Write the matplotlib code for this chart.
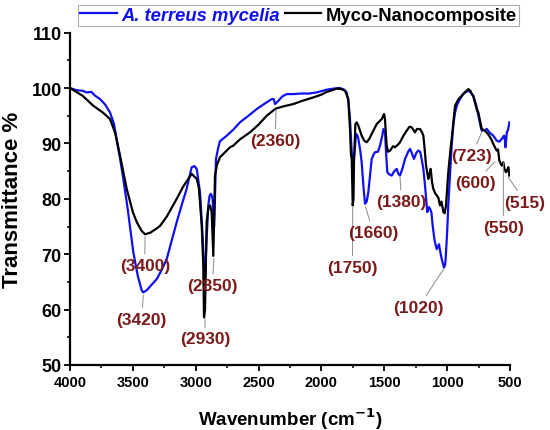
import matplotlib
matplotlib.use('Agg')
import matplotlib.pyplot as plt
from matplotlib.ticker import MultipleLocator

plt.rcParams['font.family'] = ['Liberation Sans', 'DejaVu Sans']
plt.rcParams['font.weight'] = 'bold'

# FTIR spectra (wavenumber cm-1, transmittance %)
myco_wn = [4000, 3900, 3815, 3740, 3682, 3642, 3602, 3549, 3500, 3469, 3430, 3403,
           3360, 3320, 3284, 3230, 3151, 3100, 3059, 3032, 3010, 2992, 2975, 2952,
           2940, 2934, 2926, 2913, 2900, 2886, 2873, 2860, 2852, 2847, 2830, 2807,
           2727, 2701, 2650, 2568, 2500, 2435, 2380, 2361, 2300, 2224, 2150, 2065,
           2000, 1958, 1900, 1878, 1840, 1812, 1786, 1773, 1765, 1759, 1751, 1745,
           1741, 1730, 1719, 1706, 1680, 1660, 1640, 1620, 1600, 1560, 1520, 1502,
           1495, 1481, 1470, 1454, 1430, 1415, 1390, 1375, 1350, 1322, 1300, 1282,
           1265, 1256, 1240, 1216, 1200, 1189, 1175, 1168, 1150, 1140, 1131, 1120,
           1110, 1095, 1083, 1070, 1057, 1045, 1030, 1020, 1009, 991, 975, 964,
           950, 937, 910, 884, 860, 832, 815, 805, 792, 765, 752, 725, 700, 672,
           650, 633, 606, 595, 585, 566, 553, 545, 532, 520, 513, 505]
myco_t = [100.0, 98.6, 96.8, 95.6, 94.4, 92.0, 87.8, 81.8, 77.6, 75.8, 74.2, 73.6,
          73.9, 74.5, 75.1, 76.8, 80.0, 82.2, 83.6, 84.5, 84.0, 83.6, 82.0, 75.1,
          68.0, 58.6, 60.0, 75.8, 78.3, 78.8, 77.6, 69.7, 78.0, 84.2, 86.2, 87.5,
          89.3, 89.6, 90.7, 92.0, 93.4, 95.0, 96.0, 96.3, 96.7, 97.1, 97.7, 98.3,
          98.8, 99.3, 99.7, 99.9, 99.8, 99.5, 98.0, 92.6, 88.0, 87.2, 78.8, 80.0,
          86.6, 93.5, 93.8, 93.2, 91.4, 90.5, 90.2, 90.8, 91.7, 93.5, 94.4, 95.3,
          94.5, 89.6, 88.5, 88.7, 89.5, 89.3, 89.8, 90.2, 91.3, 92.3, 93.0, 92.9,
          92.3, 92.0, 92.6, 92.6, 92.0, 91.4, 88.0, 86.0, 83.6, 84.5, 85.4, 83.0,
          81.8, 81.0, 80.6, 80.2, 78.8, 79.5, 77.6, 77.4, 78.8, 84.8, 88.5, 90.8,
          94.0, 96.8, 98.0, 98.6, 99.2, 99.8, 99.5, 98.9, 98.5, 96.2, 95.6, 92.6,
          92.3, 91.6, 90.8, 89.9, 88.7, 88.9, 86.9, 86.0, 86.6, 85.5, 84.8, 85.3,
          85.7, 84.2]

myc_wn = [4000, 3950, 3900, 3867, 3830, 3800, 3761, 3720, 3682, 3650, 3629, 3600,
          3576, 3540, 3496, 3460, 3430, 3417, 3390, 3350, 3310, 3270, 3231, 3190,
          3151, 3110, 3072, 3050, 3032, 3010, 2992, 2980, 2966, 2955, 2945, 2935,
          2926, 2915, 2900, 2890, 2881, 2870, 2865, 2854, 2847, 2839, 2820, 2807,
          2753, 2700, 2648, 2580, 2515, 2450, 2395, 2380, 2369, 2355, 2343, 2310,
          2276, 2220, 2170, 2100, 2038, 1990, 1958, 1900, 1852, 1820, 1799, 1785,
          1773, 1759, 1746, 1738, 1725, 1715, 1706, 1690, 1680, 1665, 1653, 1640,
          1627, 1610, 1600, 1585, 1574, 1550, 1534, 1515, 1507, 1494, 1485, 1476,
          1460, 1441, 1420, 1401, 1390, 1375, 1355, 1335, 1310, 1295, 1280, 1264,
          1245, 1229, 1215, 1203, 1190, 1176, 1158, 1145, 1136, 1125, 1115, 1100,
          1083, 1070, 1065, 1055, 1043, 1025, 1015, 1009, 1000, 991, 975, 964,
          950, 937, 920, 898, 870, 832, 810, 792, 770, 752, 735, 725, 700, 685,
          660, 633, 606, 585, 566, 547, 540, 536, 530, 525, 515, 505]
myc_t = [100.0, 99.6, 99.5, 99.2, 99.3, 98.6, 98.0, 97.0, 95.6, 93.5, 90.8, 87.0,
         83.6, 78.0, 70.3, 66.0, 63.5, 63.1, 63.5, 64.5, 65.5, 67.2, 69.1, 72.5,
         75.8, 79.0, 81.8, 84.0, 85.7, 85.9, 85.4, 83.5, 81.2, 77.0, 73.3, 68.0,
         66.0, 72.0, 78.8, 80.5, 80.9, 80.5, 79.7, 75.0, 80.0, 87.2, 89.3, 90.4,
         91.4, 92.5, 93.8, 95.0, 96.2, 97.2, 98.0, 98.0, 97.1, 97.4, 97.7, 98.5,
         98.9, 98.9, 99.0, 99.0, 99.2, 99.5, 99.7, 99.9, 100.0, 99.7, 99.2, 97.5,
         94.4, 88.4, 87.2, 88.0, 91.7, 91.5, 90.8, 88.5, 86.6, 82.0, 79.1, 79.5,
         81.2, 85.0, 87.2, 88.0, 88.4, 88.5, 89.6, 91.5, 92.6, 92.0, 88.0, 84.8,
         84.4, 84.2, 85.0, 85.4, 84.6, 84.2, 85.5, 87.2, 88.5, 89.0, 88.2, 87.2,
         88.3, 88.7, 88.5, 87.2, 85.5, 82.4, 77.6, 78.5, 78.2, 77.5, 75.1, 72.5,
         70.9, 71.5, 71.8, 70.5, 69.1, 67.6, 68.2, 70.3, 74.0, 78.8, 85.0, 89.6,
         93.5, 95.6, 97.0, 98.0, 99.0, 99.5, 99.2, 98.6, 97.0, 95.0, 93.2, 92.3,
         92.4, 92.6, 91.9, 91.4, 90.5, 90.3, 90.8, 91.4, 90.5, 89.3, 90.8, 92.0,
         92.5, 93.8]

# peak labels: text, point on the curve, label centre
peak_labels = ['(3400)', '(3420)', '(2930)', '(2850)', '(2360)', '(1750)', '(1660)',
               '(1380)', '(1020)', '(723)', '(600)', '(550)', '(515)']
peak_xy = [(3403, 73.2), (3417, 62.6), (2926, 58.4), (2855, 69.2), (2361, 96.0),
           (1751, 78.6), (1650, 78.6), (1375, 83.9), (1025, 67.4), (725, 92.0),
           (620, 86.7), (553, 86.6), (513, 83.9)]
label_xy = [(3405, 67.9), (3430, 58.3), (2926, 54.7), (2868, 64.3), (2369, 90.5),
            (1753, 67.6), (1587, 73.9), (1362, 79.5), (1229, 60.4), (805, 87.8),
            (778, 83.0), (553, 74.9), (380, 79.4)]

blue = '#1010f0'
dark_red = '#7a1a1a'

fig = plt.figure(figsize=(5.5, 4.31), dpi=100)
ax = fig.add_axes([70 / 550, 65 / 431, 440 / 550, 332.4 / 431])

ax.plot(myc_wn, myc_t, color=blue, lw=1.6, label='A. terreus mycelia')
ax.plot(myco_wn, myco_t, color='black', lw=1.6, label='Myco-Nanocomposite')

for txt, xy, xyt in zip(peak_labels, peak_xy, label_xy):
    ax.annotate(txt, xy=xy, xytext=xyt, ha='center', va='center',
                fontsize=12.5, fontweight='bold', color=dark_red,
                annotation_clip=False,
                arrowprops=dict(arrowstyle='-', color='#8a8a8a', lw=0.7,
                                shrinkA=1, shrinkB=0))

ax.set_xlim(4000, 500)
ax.set_ylim(50, 110)
ax.xaxis.set_major_locator(MultipleLocator(500))
ax.xaxis.set_minor_locator(MultipleLocator(250))
ax.yaxis.set_major_locator(MultipleLocator(10))
ax.yaxis.set_minor_locator(MultipleLocator(5))

for s in ['top', 'right']:
    ax.spines[s].set_visible(False)
for s in ['left', 'bottom']:
    ax.spines[s].set_linewidth(1.6)

ax.tick_params(which='major', direction='out', length=4, width=1.3)
ax.tick_params(which='minor', direction='out', length=2.5, width=1.1)
ax.tick_params(axis='x', labelsize=10.5, pad=3)
ax.tick_params(axis='y', labelsize=13, pad=2)
for lab in ax.get_xticklabels() + ax.get_yticklabels():
    lab.set_fontweight('bold')

ax.set_xlabel('Wavenumber (cm$^{\\mathbf{-1}}$)', fontsize=13.5, fontweight='bold', labelpad=12)
ax.set_ylabel('Transmittance %', fontsize=16, fontweight='bold', labelpad=6)

leg = fig.legend(loc='upper center', bbox_to_anchor=(0.543, 0.987), ncol=2,
                 fontsize=13.2, frameon=True, fancybox=False, edgecolor='#9a9a9a',
                 handlelength=2.0, handletextpad=0.25, columnspacing=0.25,
                 borderpad=0.12, borderaxespad=0)
leg.get_frame().set_linewidth(0.8)
t0, t1 = leg.get_texts()
t0.set_color(blue)
t0.set_fontstyle('italic')
t0.set_fontweight('bold')
t1.set_fontweight('bold')
for line in leg.get_lines():
    line.set_linewidth(1.6)

fig.savefig('out.png', dpi=100)
